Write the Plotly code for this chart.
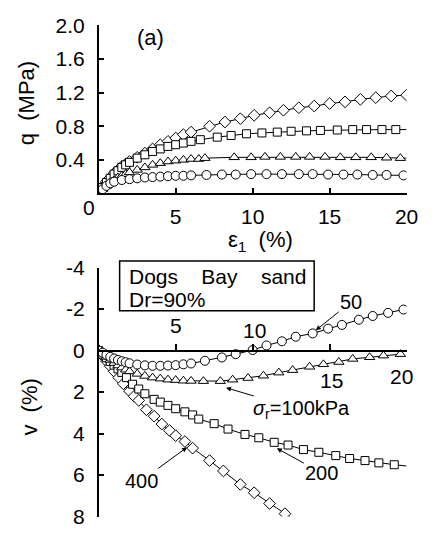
import plotly.graph_objects as go

W, H = 439, 541
FONT = "Liberation Sans, Arial, sans-serif"

# ---------------- (a) deviator stress q (MPa) vs axial strain eps1 (%) ----------------
eps_q400 = [0, 0.25, 0.5, 0.75, 1.0, 1.25, 1.5, 1.75, 2.0, 2.5, 3.0, 3.5, 4.0, 4.5, 5.0, 5.5, 6.0,
            7.2, 8.2, 9.2, 10.1, 11.1, 12, 13, 14, 15, 16, 17, 18, 19, 20]
q400 = [0, 0.08, 0.14, 0.19, 0.24, 0.28, 0.32, 0.35, 0.38, 0.43, 0.48, 0.53, 0.58, 0.62, 0.66, 0.70, 0.73,
        0.80, 0.85, 0.89, 0.93, 0.96, 0.99, 1.02, 1.04, 1.07, 1.09, 1.12, 1.14, 1.16, 1.17]

eps_q200 = [0, 0.25, 0.5, 0.75, 1.0, 1.25, 1.5, 1.75, 2.0, 2.5, 3.0, 3.5, 4.0, 4.5, 5.0, 5.5, 6.0,
            6.6, 7.7, 8.6, 9.6, 10.6, 11.6, 12.5, 13.5, 14.4, 15.5, 16.5, 17.4, 18.4, 19.3]
q200 = [0, 0.07, 0.13, 0.18, 0.23, 0.27, 0.31, 0.34, 0.37, 0.42, 0.46, 0.50, 0.53, 0.56, 0.58, 0.60, 0.62,
        0.64, 0.67, 0.69, 0.71, 0.72, 0.73, 0.74, 0.745, 0.75, 0.755, 0.76, 0.76, 0.76, 0.76]
q200_end = (20, 0.76)

eps_q100 = [0, 0.25, 0.5, 0.75, 1.0, 1.25, 1.5, 1.75, 2.0, 2.5, 3.0, 3.5, 4.0, 4.5, 5.0, 5.5, 6.0, 6.5,
            6.9, 8.8, 9.9, 10.8, 11.8, 12.8, 13.7, 14.7, 15.7, 16.7, 17.7, 18.7, 19.6]
q100 = [0, 0.05, 0.09, 0.13, 0.16, 0.19, 0.21, 0.23, 0.25, 0.28, 0.31, 0.34, 0.36, 0.38, 0.39, 0.40, 0.41, 0.41,
        0.42, 0.43, 0.43, 0.435, 0.435, 0.435, 0.435, 0.435, 0.43, 0.43, 0.43, 0.425, 0.42]
q100_end = (20, 0.42)

eps_q50 = [0, 0.25, 0.5, 0.75, 1.0, 1.5, 2.0, 2.5, 3.0, 3.5, 4.0, 4.5, 5.0, 5.5, 6.0,
           7.0, 8.0, 8.9, 9.9, 10.9, 11.9, 13, 13.9, 14.9, 15.9, 16.8, 17.8, 18.7, 19.8]
q50 = [0, 0.05, 0.09, 0.12, 0.14, 0.16, 0.17, 0.18, 0.19, 0.195, 0.20, 0.205, 0.21, 0.21, 0.215,
       0.22, 0.225, 0.225, 0.23, 0.23, 0.23, 0.23, 0.23, 0.225, 0.225, 0.225, 0.22, 0.22, 0.215]

# ---------------- volumetric strain v (%) vs eps1 (%) ----------------
eps_v50 = [0, 0.25, 0.5, 0.75, 1.0, 1.25, 1.5, 1.75, 2.0, 2.5, 3.0, 3.5, 4.0, 4.5, 5.0, 5.5, 6.0,
           6.9, 8.0, 8.9, 10.0, 10.9, 11.9, 12.8, 13.9, 14.9, 15.8, 16.9, 17.8, 18.8, 19.8]
v50 = [0, 0.1, 0.2, 0.3, 0.38, 0.45, 0.51, 0.56, 0.61, 0.67, 0.71, 0.73, 0.73, 0.72, 0.70, 0.66, 0.62,
       0.49, 0.33, 0.17, -0.03, -0.25, -0.45, -0.67, -0.83, -1.06, -1.24, -1.49, -1.67, -1.82, -1.98]

eps_v100 = [0, 0.25, 0.5, 0.75, 1.0, 1.25, 1.5, 1.75, 2.0, 2.5, 3.0, 3.5, 4.0, 4.5, 5.0, 5.5, 6.0,
            6.8, 7.9, 8.7, 9.7, 10.7, 11.7, 12.6, 13.7, 14.6, 15.6, 16.5, 17.6, 18.5, 19.6]
v100 = [0, 0.15, 0.3, 0.45, 0.6, 0.72, 0.82, 0.92, 1.0, 1.12, 1.22, 1.3, 1.35, 1.4, 1.42, 1.45, 1.46,
        1.47, 1.47, 1.40, 1.32, 1.21, 1.06, 0.94, 0.78, 0.66, 0.55, 0.40, 0.32, 0.24, 0.17]

eps_v200 = [0, 0.25, 0.5, 0.75, 1.0, 1.25, 1.5, 1.8, 2.2, 2.6, 3.0, 3.6, 4.0, 4.5, 5.0, 5.6, 6.1,
            6.5, 7.5, 8.4, 9.5, 10.4, 11.4, 12.3, 13.3, 14.3, 15.4, 16.3, 17.3, 18.2, 19.2]
v200 = [0, 0.17, 0.34, 0.52, 0.7, 0.88, 1.05, 1.3, 1.62, 1.85, 2.08, 2.35, 2.48, 2.64, 2.8, 2.95, 3.1,
        3.3, 3.52, 3.78, 4.04, 4.2, 4.42, 4.55, 4.77, 4.9, 5.06, 5.2, 5.3, 5.41, 5.5]
v200_end = (20, 5.56)

eps_v400 = [0, 0.25, 0.5, 0.75, 1.0, 1.3, 1.6, 2.0, 2.3, 2.6, 3.1, 3.6, 4.1, 4.6, 5.0, 5.6, 6.1,
            7.2, 8.1, 9.2, 10.1, 11.1, 12.1]
v400 = [0, 0.25, 0.5, 0.75, 1.0, 1.3, 1.6, 1.95, 2.2, 2.4, 2.85, 3.16, 3.54, 3.85, 4.1, 4.38, 4.7,
        5.3, 5.8, 6.45, 6.85, 7.37, 7.86]
v400_end = (12.4, 8.0)

# tick labels
q_ticks = [0.4, 0.8, 1.2, 1.6, 2.0]
q_ticktext = ["0.4", "0.8", "1.2", "1.6", "2.0"]
eps_ticks = [5, 10, 15, 20]
v_ticks = [-4, -2, 0, 2, 4, 6, 8]
v_ticktext = ["-4", "-2", "0", "2", "4", "6", "8"]
# bottom x tick labels (placed above/below the v=0 axis): (label, eps, v)
v_xlabels = [("5", 5.0, -1.2), ("10", 10.1, -0.97), ("15", 15.1, 1.43), ("20", 19.7, 1.25)]

# curve labels with arrows: (text, label eps, label v, arrow-head eps, arrow-head v)
curve_labels = [("50", 16.4, -2.35, 14.1, -0.98),
                ("<i>σ</i><sub>r</sub>=100kPa", 13.15, 2.86, 8.27, 1.79),
                ("200", 14.5, 5.9, 11.57, 4.71),
                ("400", 2.75, 6.28, 5.74, 4.66)]


def px(x):
    return x / W


def py(y):
    return 1 - y / H


x_dom = [px(101.5), px(418)]
y1_dom = [py(189.5), py(14)]
y2_dom = [py(527), py(267)]
v_rng = [8, -4]
x2_pos = y2_dom[0] + (y2_dom[1] - y2_dom[0]) * (v_rng[0] - 0) / (v_rng[0] - v_rng[1])

fig = go.Figure()

LINE = dict(color="black", width=1)


def add_series(x, y, sym, size, xa, ya, end=None):
    lx, ly = list(x), list(y)
    if end is not None:
        lx.append(end[0])
        ly.append(end[1])
    fig.add_trace(go.Scatter(x=lx, y=ly, mode="lines", line=LINE, xaxis=xa, yaxis=ya,
                             showlegend=False, hoverinfo="skip"))
    fig.add_trace(go.Scatter(x=x, y=y, mode="markers", xaxis=xa, yaxis=ya, showlegend=False,
                             marker=dict(symbol=sym, size=size, color="white",
                                         line=dict(color="black", width=1))))


add_series(eps_q400, q400, "diamond", 9, "x", "y")
add_series(eps_q200, q200, "square", 8, "x", "y", q200_end)
add_series(eps_q100, q100, "triangle-up", 9, "x", "y", q100_end)
add_series(eps_q50, q50, "circle", 9, "x", "y")

add_series(eps_v400, v400, "diamond", 9, "x2", "y2", v400_end)
add_series(eps_v200, v200, "square", 8, "x2", "y2", v200_end)
add_series(eps_v100, v100, "triangle-up", 9, "x2", "y2")
add_series(eps_v50, v50, "circle", 9, "x2", "y2")

TF = dict(family=FONT, size=21, color="black")
axis_common = dict(showgrid=False, zeroline=False, showline=True, linecolor="black", linewidth=1.5,
                   ticks="inside", ticklen=6, tickwidth=1.5, tickcolor="black", tickfont=TF)

fig.update_layout(
    width=W, height=H, margin=dict(l=0, r=0, t=0, b=0),
    paper_bgcolor="white", plot_bgcolor="white",
    xaxis=dict(domain=x_dom, range=[0, 20], anchor="y", tickvals=eps_ticks, ticklabelstandoff=4,
               **axis_common),
    yaxis=dict(domain=y1_dom, range=[0, 2], anchor="x", tickvals=[0] + q_ticks,
               ticktext=[""] + q_ticktext, ticklabelstandoff=8, **axis_common),
    xaxis2=dict(domain=x_dom, range=[0, 20], anchor="free", position=x2_pos, tickvals=eps_ticks,
                showticklabels=False, **axis_common),
    yaxis2=dict(domain=y2_dom, range=v_rng, anchor="x2", tickvals=v_ticks, ticktext=v_ticktext,
                ticklabelstandoff=8, **axis_common),
)

ann = []


def pann(text, x, y, size=22, angle=0, xanchor="center"):
    ann.append(dict(text=text, x=px(x), y=py(y), xref="paper", yref="paper", showarrow=False,
                    xanchor=xanchor, yanchor="middle", textangle=angle,
                    font=dict(family=FONT, size=size, color="black")))


pann("0", 91, 204, 21)
pann("(a)", 155, 27)
pann("q  (MPa)", 28, 95, angle=-90)
pann("ε<sub>1</sub>  (%)", 268, 239)
pann("v  (%)", 30, 413, angle=-90)
pann("Dogs" + "\u00a0" * 4 + "Bay" + "\u00a0" * 4 + "sand", 131, 276, 21, xanchor="left")
pann("Dr=90%", 131, 300, 21, xanchor="left")

for t, xx, yy in v_xlabels:
    ann.append(dict(text=t, x=xx, y=yy, xref="x2", yref="y2", showarrow=False, font=TF,
                    xanchor="center", yanchor="middle"))
for t, lx, ly, hx, hy in curve_labels:
    ann.append(dict(text=t, x=hx, y=hy, xref="x2", yref="y2", ax=lx, ay=ly, axref="x2", ayref="y2",
                    showarrow=True, arrowhead=2, arrowsize=1, arrowwidth=1, arrowcolor="black",
                    standoff=0, font=dict(family=FONT, size=20, color="black")))
fig.update_layout(annotations=ann)

fig.add_shape(type="rect", xref="paper", yref="paper", x0=px(123), x1=px(323), y0=py(312), y1=py(260),
              line=dict(color="black", width=1.5), fillcolor="rgba(0,0,0,0)")

fig.write_html("out.html")
